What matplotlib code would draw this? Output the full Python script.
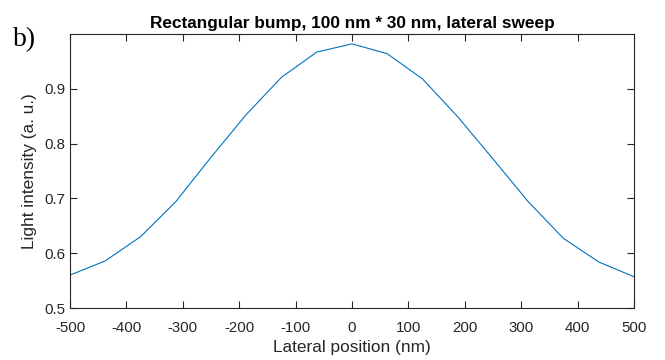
import matplotlib
matplotlib.use("Agg")
import matplotlib.pyplot as plt

# Lateral sweep of a rectangular bump: intensity vs. position
position_nm = [-500, -437.5, -375, -312.5, -250, -187.5, -125, -62.5, 0,
               62.5, 125, 187.5, 250, 312.5, 375, 437.5, 500]
intensity = [0.560, 0.586, 0.630, 0.694, 0.775, 0.853, 0.921, 0.967, 0.982,
             0.964, 0.918, 0.849, 0.772, 0.694, 0.627, 0.584, 0.557]

x_ticks = [-500, -400, -300, -200, -100, 0, 100, 200, 300, 400, 500]
y_ticks = [0.5, 0.6, 0.7, 0.8, 0.9]

dark = "#262626"
plt.rcParams["font.family"] = ["Liberation Sans", "DejaVu Sans"]

fig = plt.figure(figsize=(6.65, 3.6), dpi=100)
ax = fig.add_axes([70 / 665, 1 - 308 / 360, (634 - 70) / 665, (308 - 34) / 360])

ax.plot(position_nm, intensity, color="#0072BD", linewidth=0.8)

ax.set_xlim(-500, 500)
ax.set_ylim(0.5, 1.0)
ax.set_xticks(x_ticks)
ax.set_xticklabels([str(t) for t in x_ticks])
ax.set_yticks(y_ticks)
ax.set_yticklabels([f"{t:g}" for t in y_ticks])

ax.tick_params(direction="in", length=5, width=0.8, colors=dark,
               labelsize=10.8, top=True, right=True)
ax.tick_params(axis="x", pad=9)
ax.tick_params(axis="y", pad=3.5)
for s in ax.spines.values():
    s.set_color(dark)
    s.set_linewidth(0.8)

ax.set_xlabel("Lateral position (nm)", fontsize=12.4, color=dark, labelpad=4)
ax.set_ylabel("Light intensity (a. u.)", fontsize=12.4, color=dark, labelpad=5)
ax.set_title("Rectangular bump, 100 nm * 30 nm, lateral sweep",
             fontsize=12.4, fontweight="bold", color="black", pad=4.5)

fig.text(13 / 665, 1 - 46 / 360, "b)", fontsize=20, va="baseline",
         family=["Liberation Serif", "DejaVu Serif"], color="black")

fig.savefig("out.png", dpi=100)
